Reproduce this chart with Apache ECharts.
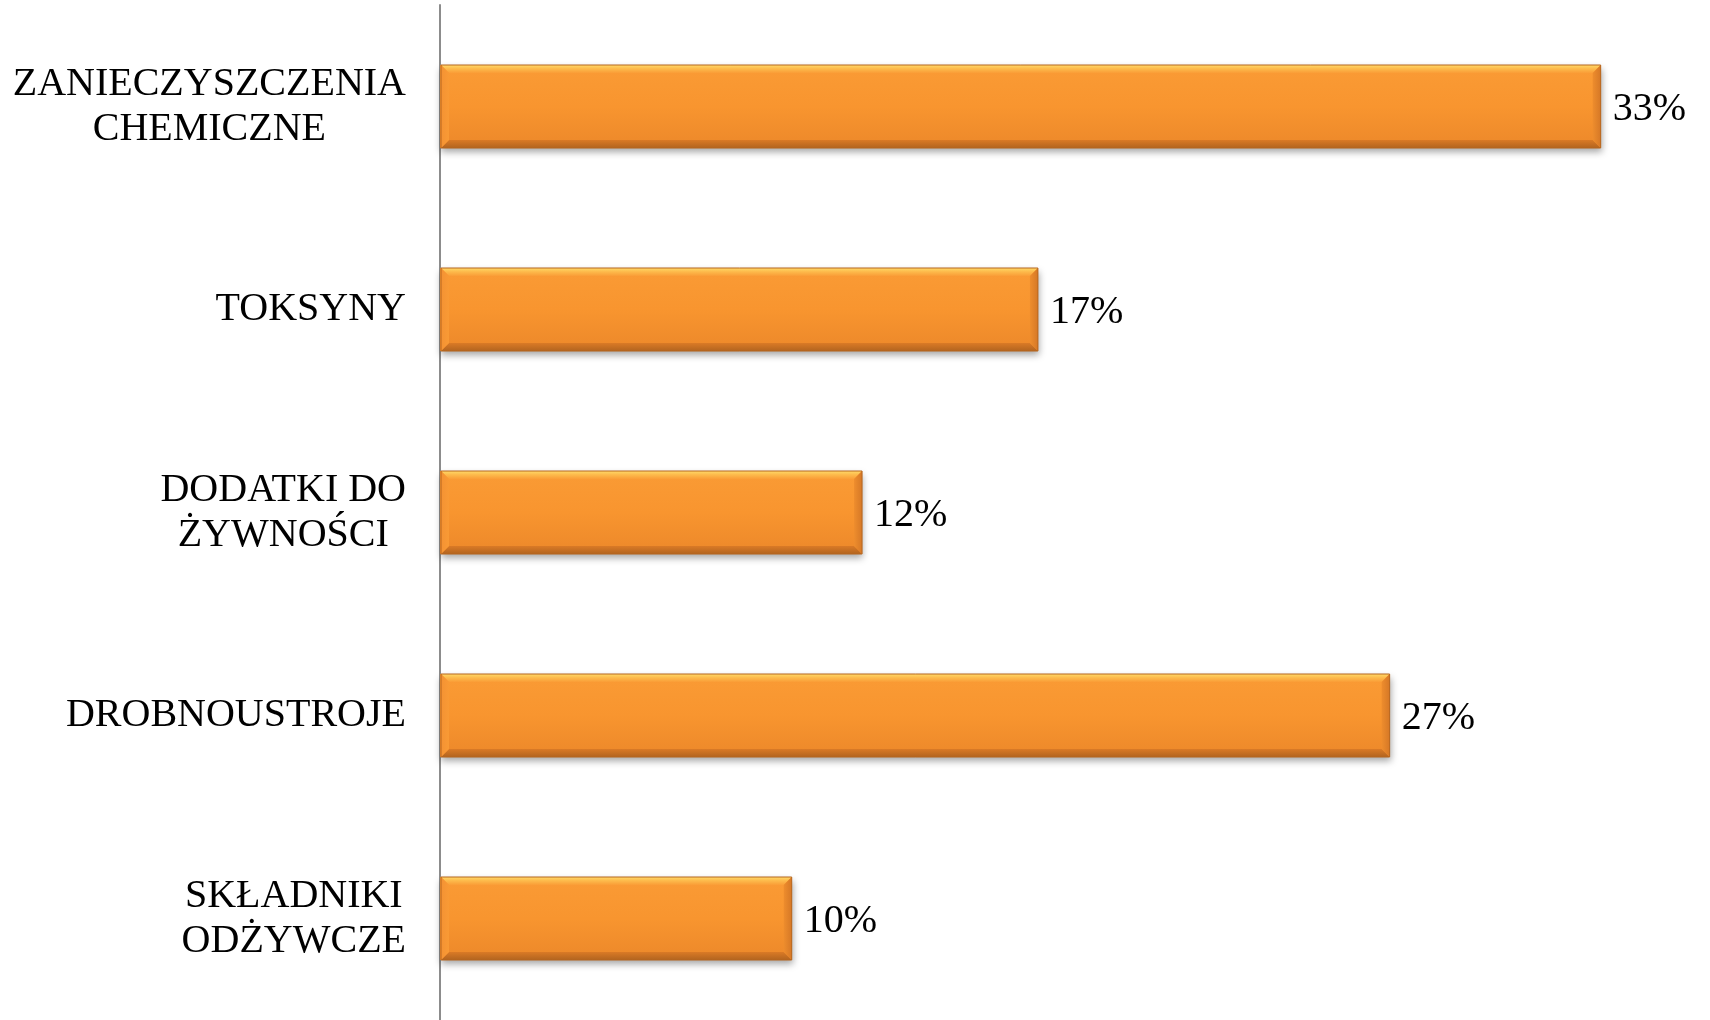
<!DOCTYPE html>
<html>
<head>
<meta charset="utf-8">
<script src="https://cdn.jsdelivr.net/npm/echarts@6/dist/echarts.min.js"></script>
<style>
  html, body { margin: 0; padding: 0; background: #ffffff; }
  #chart { width: 1710px; height: 1020px; }
</style>
</head>
<body>
<div id="chart"></div>
<script>
// Sources of food hazards, share of responses (%)
const categories = [
  'ZANIECZYSZCZENIA\nCHEMICZNE',
  'TOKSYNY',
  'DODATKI DO\nŻYWNOŚCI',
  'DROBNOUSTROJE',
  'SKŁADNIKI\nODŻYWCZE'
];
const shares = [33, 17, 12, 27, 10];

const SERIF = '"Liberation Serif", "Times New Roman", serif';
const BAR_W = 83;
const BEVEL = 8;

const vGrad = (stops) => new echarts.graphic.LinearGradient(0, 0, 0, 1,
  stops.map(([offset, color]) => ({ offset, color })));
const hGrad = (stops) => new echarts.graphic.LinearGradient(0, 0, 1, 0,
  stops.map(([offset, color]) => ({ offset, color })));

// Body of each bar
const bodyFill = vGrad([[0, '#FA9B35'], [0.5, '#F8952F'], [1, '#EC882A']]);

// Beveled rim drawn over each bar: light top edge, darker bottom and right edges
function renderBevel(params, api) {
  const v = api.value(0);
  const idx = api.value(1);
  const p0 = api.coord([0, idx]);
  const p1 = api.coord([v, idx]);
  const x0 = p0[0] + 1, x1 = p1[0];
  const y0 = p0[1] - BAR_W / 2, y1 = p0[1] + BAR_W / 2;
  const b = BEVEL;
  return {
    type: 'group',
    children: [
      {
        type: 'polygon',
        shape: { points: [[x0, y0], [x1, y0], [x1 - b, y0 + b], [x0 + b, y0 + b]] },
        style: { fill: vGrad([[0, '#FFD968'], [0.45, '#FDBB4C'], [1, '#FA9D37']]) }
      },
      {
        type: 'polygon',
        shape: { points: [[x0, y1], [x1, y1], [x1 - b, y1 - b], [x0 + b, y1 - b]] },
        style: { fill: vGrad([[0, '#DA7A26'], [1, '#B2641F']]) }
      },
      {
        type: 'polygon',
        shape: { points: [[x1, y0], [x1, y1], [x1 - b, y1 - b], [x1 - b, y0 + b]] },
        style: { fill: hGrad([[0, '#EE8D2D'], [1, '#D67826']]) }
      },
      {
        type: 'polygon',
        shape: { points: [[x0, y0], [x0, y1], [x0 + b, y1 - b], [x0 + b, y0 + b]] },
        style: { fill: hGrad([[0, '#F49233'], [1, '#F99A35']]) }
      },
      {
        type: 'rect',
        shape: { x: x0, y: y0, width: x1 - x0, height: BAR_W },
        style: { fill: 'none', stroke: '#B7661F', lineWidth: 1 }
      }
    ]
  };
}

const chart = echarts.init(document.getElementById('chart'));
chart.setOption({
  backgroundColor: '#ffffff',
  animation: false,
  grid: { left: 440, top: 5, width: 1231, height: 1018, containLabel: false },
  xAxis: {
    type: 'value',
    min: 0,
    max: 35,
    show: false
  },
  yAxis: {
    type: 'category',
    data: categories,
    inverse: true,
    axisLine: { show: true, lineStyle: { color: '#8C8C8C', width: 2 } },
    axisTick: { show: false },
    splitLine: { show: false },
    axisLabel: {
      margin: 34,
      align: 'right',
      formatter: (val) => val.split('\n').map((s) => '{c|' + s + '}').join('\n'),
      rich: {
        c: {
          color: '#000000',
          fontFamily: SERIF,
          fontSize: 40,
          lineHeight: 45,
          align: 'center'
        }
      }
    }
  },
  series: [
    {
      type: 'bar',
      data: shares,
      barWidth: BAR_W,
      z: 2,
      itemStyle: {
        color: bodyFill,
        shadowColor: 'rgba(0,0,0,0.35)',
        shadowBlur: 7,
        shadowOffsetX: 1,
        shadowOffsetY: 4
      },
      label: {
        show: true,
        position: 'right',
        distance: 12,
        offset: [0, 3],
        formatter: '{c}%',
        color: '#000000',
        fontFamily: SERIF,
        fontSize: 40
      }
    },
    {
      type: 'custom',
      renderItem: renderBevel,
      data: shares.map((v, i) => [v, i]),
      encode: { x: 0, y: 1 },
      z: 3,
      silent: true
    }
  ]
});
</script>
</body>
</html>
